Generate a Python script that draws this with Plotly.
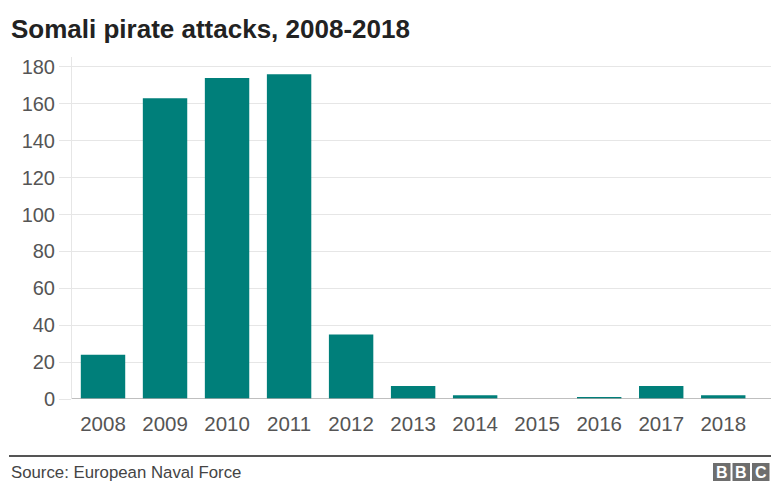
import plotly.graph_objects as go

years = ["2008", "2009", "2010", "2011", "2012", "2013", "2014", "2015", "2016", "2017", "2018"]
attacks = [24, 163, 174, 176, 35, 7, 2, 0, 1, 7, 2]
y_ticks = [0, 20, 40, 60, 80, 100, 120, 140, 160, 180]

W, H = 771, 481
ML, MR, MT, MB = 72, 0, 57, 82
PW, PH = W - ML - MR, H - MT - MB

def px(x):
    return (x - ML) / PW

def py(y):
    return (H - MB - y) / PH

FONT = "Liberation Sans, Arial, sans-serif"
TEAL = "#007f7a"

fig = go.Figure(go.Bar(
    x=list(range(len(years))), y=attacks,
    marker=dict(color=TEAL, line=dict(width=0)),
    width=0.716,
))

fig.update_layout(
    width=W, height=H,
    margin=dict(l=ML, r=MR, t=MT, b=MB),
    paper_bgcolor="white", plot_bgcolor="white",
    showlegend=False,
    xaxis=dict(
        tickmode="array", tickvals=list(range(len(years))), ticktext=years,
        range=[-0.5, 10.77], showgrid=False, zeroline=False,
        showline=False, ticks="", ticklabelstandoff=10,
        tickfont=dict(family=FONT, size=20.5, color="#555555"),
        fixedrange=True,
    ),
    yaxis=dict(
        range=[0, 185.4], tickvals=y_ticks,
        showgrid=True, gridcolor="#e6e6e6", gridwidth=1,
        zeroline=False,
        showline=True, linecolor="#e6e6e6", linewidth=1,
        ticks="outside", ticklen=12, tickcolor="#e6e6e6", tickwidth=1,
        tickfont=dict(family=FONT, size=20, color="#555555"),
        fixedrange=True,
    ),
)

shapes = [
    # baseline
    dict(type="line", xref="paper", yref="y", x0=0, x1=1, y0=0, y1=0,
         line=dict(color="#aaaaaa", width=1.5)),
    # footer rule
    dict(type="line", xref="paper", yref="paper", x0=px(9), x1=px(W + 2), y0=py(456), y1=py(456),
         line=dict(color="#555555", width=1.8)),
]
annotations = [
    dict(text="<b>Somali pirate attacks, 2008-2018</b>", xref="paper", yref="paper",
         x=px(9), y=py(29), xanchor="left", yanchor="middle", showarrow=False,
         font=dict(family=FONT, size=26, color="#222222")),
    dict(text="Source: European Naval Force", xref="paper", yref="paper",
         x=px(9), y=py(472), xanchor="left", yanchor="middle", showarrow=False,
         font=dict(family=FONT, size=16.8, color="#444444")),
]
letters = ["B", "B", "C"]
lx = [713, 732.5, 752]
BOX = 17.5
for L, x0 in zip(letters, lx):
    shapes.append(dict(type="rect", xref="paper", yref="paper",
                       x0=px(x0), x1=px(x0 + BOX), y0=py(463), y1=py(484),
                       fillcolor="#6e6e6e", line=dict(width=0), layer="above"))
    annotations.append(dict(text="<b>" + L + "</b>", xref="paper", yref="paper",
                            x=px(x0 + BOX / 2), y=py(472.5), xanchor="center", yanchor="middle",
                            showarrow=False, font=dict(family=FONT, size=16, color="white")))

fig.update_layout(shapes=shapes, annotations=annotations)
fig.write_html("out.html", config={"displayModeBar": False})
